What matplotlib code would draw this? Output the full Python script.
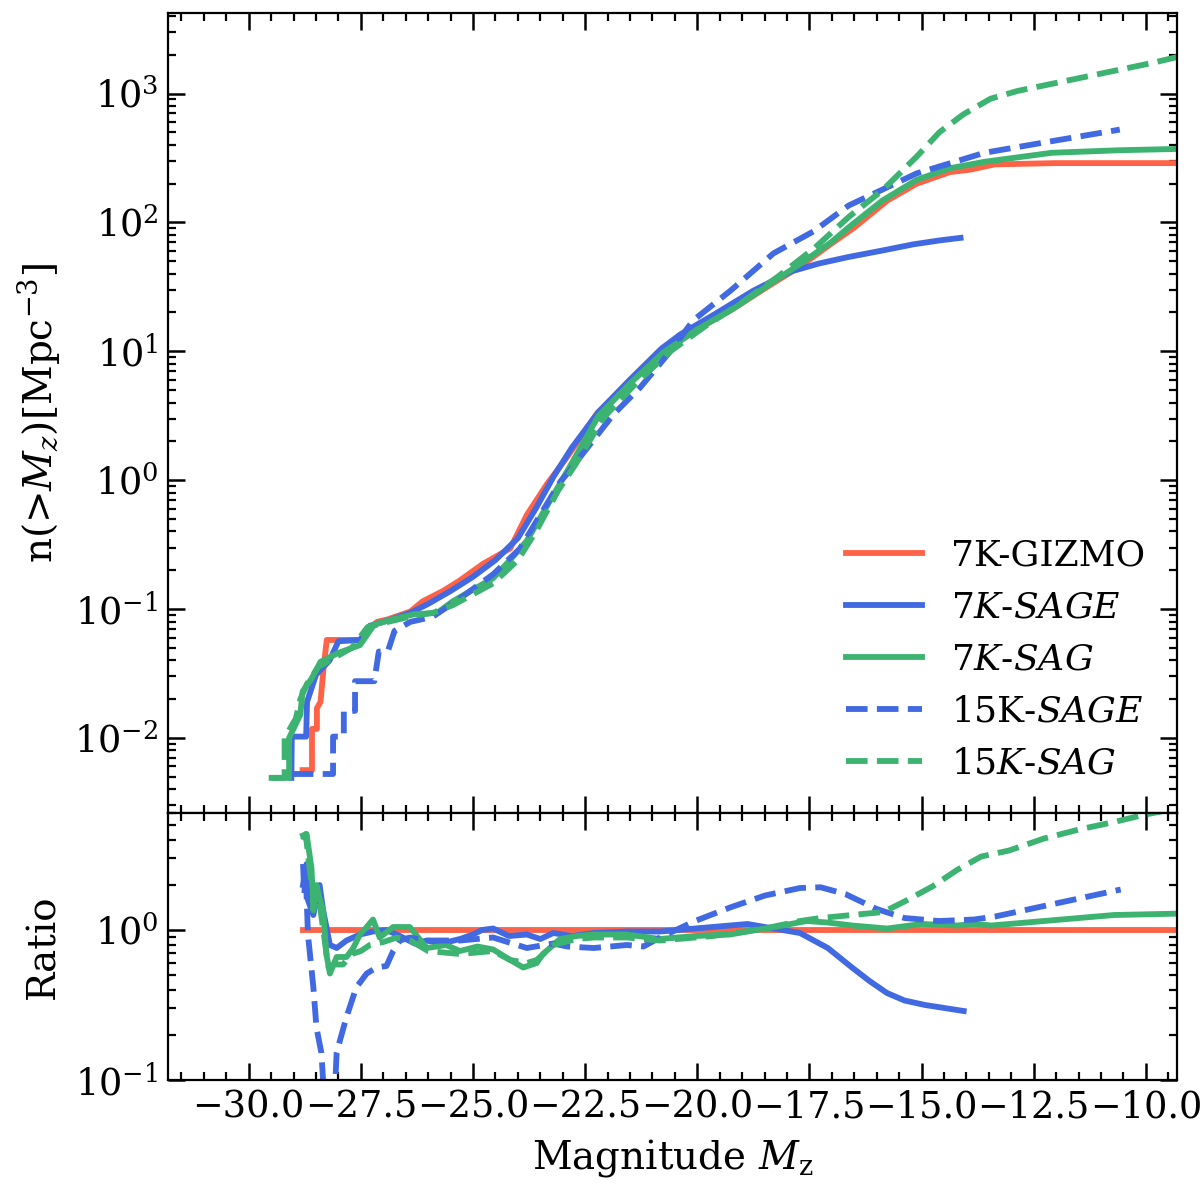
import numpy as np
import matplotlib
matplotlib.use('Agg')
import matplotlib.pyplot as plt

plt.rcParams['font.family'] = 'DejaVu Serif'
plt.rcParams['mathtext.fontset'] = 'dejavuserif'

# cumulative number density, log10 n(>Mz)
mag_gizmo = [-28.80, -28.59, -28.59, -28.48, -28.48, -28.40, -28.33, -28.26, -27.52,
             -27.40, -27.30, -27.14, -26.90, -26.40, -26.12, -25.67, -25.30, -24.78,
             -24.17, -23.80, -23.35, -22.90, -22.23, -21.50, -20.76, -20.00, -19.20,
             -18.30, -17.70, -17.03, -16.50, -15.76, -15.11, -14.37, -13.90, -13.37,
             -12.00, -9.30]
logn_gizmo = [-2.25, -2.25, -1.93, -1.93, -1.77, -1.72, -1.45, -1.24, -1.24,
              -1.20, -1.15, -1.10, -1.08, -1.02, -0.94, -0.86, -0.78, -0.65,
              -0.53, -0.27, -0.03, 0.18, 0.52, 0.76, 1.00, 1.17, 1.33,
              1.53, 1.66, 1.83, 1.96, 2.17, 2.30, 2.39, 2.41, 2.45,
              2.46, 2.46]

mag_sage7 = [-29.05, -29.04, -28.72, -28.70, -28.50, -28.20, -28.00, -27.52, -27.30,
             -26.90, -26.40, -26.00, -25.50, -25.00, -24.50, -24.00, -23.60, -23.20,
             -22.80, -22.20, -21.50, -20.80, -20.38, -19.60, -18.75, -17.90, -17.30,
             -16.65, -15.90, -15.18, -14.60, -14.13]
logn_sage7 = [-2.31, -1.99, -1.99, -1.72, -1.51, -1.40, -1.25, -1.24, -1.13,
              -1.09, -1.03, -0.96, -0.86, -0.75, -0.62, -0.45, -0.22, 0.03,
              0.25, 0.53, 0.78, 1.02, 1.13, 1.29, 1.47, 1.62, 1.68,
              1.73, 1.78, 1.83, 1.86, 1.88]

mag_sag7 = [-29.49, -29.10, -29.10, -28.85, -28.80, -28.60, -28.40, -28.00, -27.52,
            -27.20, -26.80, -26.30, -25.80, -25.45, -24.55, -24.20, -23.80, -23.20,
            -22.80, -22.20, -21.50, -20.76, -20.00, -19.20, -18.30, -17.70, -17.00,
            -16.63, -15.87, -15.11, -14.37, -13.60, -12.10, -10.58, -9.30]
logn_sag7 = [-2.31, -2.31, -2.00, -1.82, -1.64, -1.54, -1.41, -1.34, -1.28,
             -1.12, -1.08, -1.04, -1.03, -0.94, -0.76, -0.63, -0.47, -0.11,
             0.13, 0.50, 0.75, 0.99, 1.17, 1.33, 1.54, 1.68, 1.85,
             1.96, 2.17, 2.33, 2.42, 2.47, 2.54, 2.56, 2.57]

mag_sage15 = [-29.04, -28.12, -28.12, -27.88, -27.88, -27.63, -27.63, -27.20, -27.10,
              -26.90, -26.75, -26.40, -25.90, -25.30, -24.55, -23.95, -23.50, -23.05,
              -22.90, -21.87, -21.27, -20.60, -20.09, -19.26, -18.30, -17.41, -16.63,
              -15.11, -13.60, -12.10, -10.58]
logn_sage15 = [-2.28, -2.28, -1.99, -1.99, -1.79, -1.79, -1.56, -1.56, -1.33,
               -1.33, -1.17, -1.10, -1.06, -0.92, -0.73, -0.53, -0.27, -0.01,
               0.05, 0.51, 0.72, 1.00, 1.24, 1.47, 1.76, 1.93, 2.13,
               2.38, 2.54, 2.63, 2.72]

mag_sag15 = [-29.49, -29.20, -29.20, -28.95, -28.85, -28.70, -28.45, -28.10, -27.70,
             -27.35, -26.90, -26.30, -25.90, -25.45, -24.55, -24.00, -23.60, -23.10,
             -22.70, -22.10, -21.40, -20.60, -19.80, -19.00, -18.20, -17.39, -16.63,
             -15.87, -15.11, -14.60, -14.06, -13.46, -12.86, -11.34, -9.82, -9.22]
logn_sag15 = [-2.31, -2.31, -2.00, -1.85, -1.70, -1.58, -1.45, -1.38, -1.30,
              -1.14, -1.10, -1.05, -1.03, -0.97, -0.80, -0.62, -0.40, -0.08,
              0.13, 0.48, 0.74, 1.00, 1.20, 1.38, 1.58, 1.80, 2.04,
              2.25, 2.51, 2.70, 2.84, 2.96, 3.02, 3.13, 3.24, 3.29]

# ratio to 7K-GIZMO, log10
rmag_gizmo = [-28.79, -9.30]
logr_gizmo = [0.0, 0.0]

rmag_sage7 = [-28.79, -28.71, -28.68, -28.56, -28.42, -28.34, -28.19, -28.04, -27.82,
              -27.52, -27.23, -26.93, -26.63, -26.30, -26.03, -25.70, -25.29, -25.00,
              -24.80, -24.55, -24.20, -23.80, -23.50, -23.21, -22.80, -22.31, -21.57,
              -20.83, -20.05, -18.88, -18.49, -17.71, -17.09, -16.55, -16.16, -15.77,
              -15.38, -14.92, -14.06]
logr_sage7 = [0.30, 0.44, 0.20, 0.10, 0.30, 0.13, -0.10, -0.12, -0.07,
              -0.03, -0.01, 0.00, -0.04, -0.09, -0.07, -0.09, -0.06, -0.03,
              0.00, 0.01, -0.04, -0.03, -0.06, -0.02, -0.04, -0.02, -0.01,
              -0.01, 0.01, 0.04, 0.02, -0.02, -0.12, -0.25, -0.34, -0.42,
              -0.47, -0.50, -0.54]

rmag_sag7 = [-28.79, -28.71, -28.60, -28.56, -28.49, -28.42, -28.34, -28.27, -28.19,
             -28.04, -27.82, -27.67, -27.52, -27.37, -27.23, -27.08, -26.78, -26.41,
             -26.03, -25.60, -25.29, -24.90, -24.55, -24.17, -23.88, -23.58, -23.44,
             -23.06, -22.69, -22.31, -21.57, -20.83, -20.05, -19.27, -18.49, -18.10,
             -17.56, -17.09, -16.55, -15.77, -14.99, -14.21, -13.83, -13.44, -13.05,
             -12.27, -11.49, -10.71, -9.16]
logr_sag7 = [0.63, 0.64, 0.41, 0.13, 0.30, 0.21, 0.13, -0.16, -0.29,
             -0.18, -0.18, -0.12, -0.03, 0.02, 0.07, -0.05, 0.02, 0.02,
             -0.12, -0.10, -0.14, -0.11, -0.13, -0.20, -0.25, -0.22, -0.16,
             -0.06, -0.04, -0.03, -0.03, -0.06, -0.04, -0.03, 0.01, 0.03,
             0.06, 0.05, 0.03, 0.01, 0.04, 0.03, 0.04, 0.03, 0.04,
             0.06, 0.08, 0.10, 0.11]

rmag_sage15 = [-28.79, -28.76, -28.73, -28.68, -28.56, -28.49, -28.38, -28.30, -28.10,
               -28.04, -27.97, -27.82, -27.60, -27.52, -27.37, -27.15, -26.93, -26.78,
               -26.63, -26.41, -26.03, -25.29, -24.55, -23.80, -23.21, -22.90, -22.31,
               -21.57, -21.20, -20.83, -20.05, -19.27, -18.49, -17.71, -17.25, -16.70,
               -16.00, -15.38, -14.61, -13.83, -13.36, -12.27, -11.49, -10.56]
logr_sage15 = [0.44, 0.24, 0.40, -0.03, -0.38, -0.65, -0.82, -1.20, -1.20,
               -0.82, -0.74, -0.58, -0.38, -0.35, -0.29, -0.25, -0.24, -0.14,
               -0.07, -0.05, -0.07, -0.07, -0.05, -0.12, -0.09, -0.11, -0.12,
               -0.10, -0.11, -0.05, 0.06, 0.15, 0.23, 0.28, 0.285, 0.24,
               0.14, 0.08, 0.06, 0.07, 0.09, 0.16, 0.21, 0.27]

rmag_sag15 = [-28.79, -28.73, -28.62, -28.52, -28.45, -28.34, -28.22, -28.10, -27.90,
              -27.70, -27.50, -27.30, -27.00, -26.70, -26.40, -26.00, -25.29, -24.55,
              -24.17, -23.80, -23.58, -23.21, -22.69, -22.31, -21.57, -20.83, -19.66,
              -18.49, -17.71, -17.25, -16.55, -15.85, -15.38, -14.76, -14.21, -13.67,
              -13.05, -12.27, -11.49, -10.71, -10.01, -9.16]
logr_sag15 = [0.60, 0.64, 0.35, 0.20, 0.25, 0.00, -0.25, -0.23, -0.23,
              -0.16, -0.14, -0.10, -0.08, -0.05, -0.07, -0.14, -0.16, -0.14,
              -0.20, -0.22, -0.20, -0.10, -0.06, -0.05, -0.05, -0.07, -0.04,
              0.01, 0.06, 0.08, 0.10, 0.12, 0.19, 0.29, 0.40, 0.49,
              0.53, 0.61, 0.67, 0.72, 0.77, 0.82]

labels = ['7K-GIZMO', '7$K$-$SAGE$', '7$K$-$SAG$', '15K-$SAGE$', '15$K$-$SAG$']
colors = ['tomato', 'royalblue', 'mediumseagreen', 'royalblue', 'mediumseagreen']
styles = ['-', '-', '-', '--', '--']

top_data = [(mag_gizmo, logn_gizmo), (mag_sage7, logn_sage7), (mag_sag7, logn_sag7),
            (mag_sage15, logn_sage15), (mag_sag15, logn_sag15)]
bot_data = [(rmag_gizmo, logr_gizmo), (rmag_sage7, logr_sage7), (rmag_sag7, logr_sag7),
            (rmag_sage15, logr_sage15), (rmag_sag15, logr_sag15)]

fig = plt.figure(figsize=(6, 6), dpi=200)
gs = fig.add_gridspec(2, 1, height_ratios=[3, 1], hspace=0)
ax1 = fig.add_subplot(gs[0])
ax2 = fig.add_subplot(gs[1], sharex=ax1)
fig.subplots_adjust(left=0.14, right=0.981, top=0.989, bottom=0.1)

for (m, ln), lab, c, ls in zip(top_data, labels, colors, styles):
    ax1.plot(m, 10**np.array(ln), color=c, ls=ls, lw=2.1, label=lab)
for (m, lr), c, ls in zip(bot_data, colors, styles):
    ax2.plot(m, 10**np.array(lr), color=c, ls=ls, lw=2.1)

ax1.set_yscale('log')
ax2.set_yscale('log')
ax1.set_xlim(-31.8, -9.3)
ax1.set_ylim(2.6e-3, 4.2e3)
ax2.set_ylim(0.1, 6.0)
ax2.set_xticks(np.arange(-30, -9, 2.5))
ax2.xaxis.set_minor_locator(matplotlib.ticker.MultipleLocator(0.5))

for ax in (ax1, ax2):
    ax.tick_params(which='both', direction='in', top=True, right=True, labelsize=13.2)
    ax.tick_params(which='major', length=6, width=0.9)
    ax.tick_params(which='minor', length=3, width=0.8)
ax1.tick_params(labelbottom=False)

ax1.set_ylabel(r'n(>$M_z$)[Mpc$^{-3}$]', fontsize=14)
ax2.set_ylabel('Ratio', fontsize=14)
ax2.set_xlabel(r'Magnitude $M_{\rm z}$', fontsize=14)
ax1.yaxis.set_label_coords(-0.105, 0.5)
ax2.yaxis.set_label_coords(-0.105, 0.5)

ax1.legend(loc='lower right', frameon=False, fontsize=13, handlelength=2.1,
           labelspacing=0.5, bbox_to_anchor=(1.0, 0.0))

fig.savefig('out.png', dpi=200)
